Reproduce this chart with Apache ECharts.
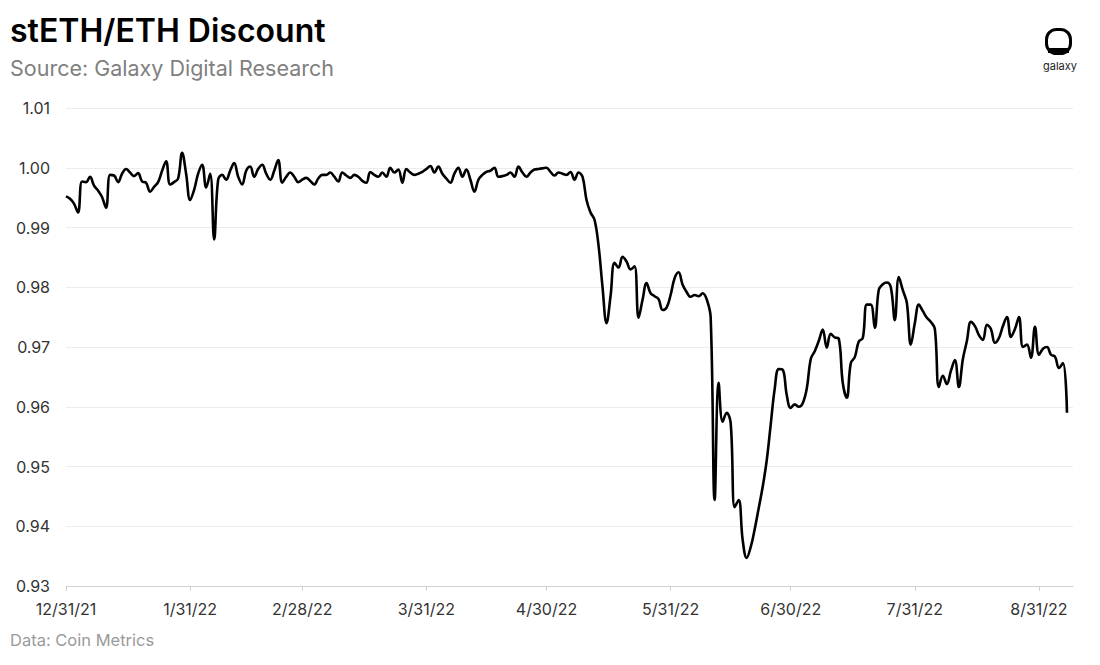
<!DOCTYPE html>
<html>
<head>
<meta charset="utf-8">
<script src="https://cdn.jsdelivr.net/npm/echarts@6/dist/echarts.min.js"></script>
<style>
html,body{margin:0;padding:0;background:#fff;}
#c{width:1100px;height:665px;}
</style>
</head>
<body>
<div id="c"></div>
<script>
// Day offsets from 12/31/21 for the x-axis ticks
const tickDays = [0, 31, 59, 90, 120, 151, 181, 212, 243];
const tickLabels = ["12/31/21", "1/31/22", "2/28/22", "3/31/22", "4/30/22", "5/31/22", "6/30/22", "7/31/22", "8/31/22"];
const yTicks = [0.93, 0.94, 0.95, 0.96, 0.97, 0.98, 0.99, 1.00, 1.01];

// Daily stETH/ETH ratio, day 0 = 12/31/21
const ratio = [
  0.9952,0.9948,0.9940,0.9925,0.9977,0.9976,0.9985,0.9970,0.9962,0.9951,0.9933,
  0.9988,0.9987,0.9976,0.9990,0.9998,0.9992,0.9986,0.9991,0.9977,0.9975,
  0.9960,0.9968,0.9976,0.9995,1.0011,0.9972,0.9976,0.9982,1.0025,0.9990,
  0.9946,0.9963,0.9990,1.0005,0.9967,0.9990,0.9880,0.9980,0.9988,0.9980,
  0.9995,1.0008,0.9985,0.9972,0.9995,1.0002,0.9985,0.9998,1.0005,0.9990,
  0.9980,0.9995,1.0013,0.9975,0.9985,0.9992,0.9985,0.9976,0.9980,0.9983,
  0.9978,0.9972,0.9982,0.9988,0.9988,0.9992,0.9985,0.9977,0.9992,0.9987,
  0.9983,0.9988,0.9985,0.9978,0.9975,0.9993,0.9988,0.9985,0.9992,0.9985,
  1.0000,0.9992,0.9997,0.9975,0.9998,0.9992,0.9988,0.9990,0.9993,0.9998,
  1.0003,0.9992,1.0002,0.9990,0.9982,0.9975,0.9990,1.0000,0.9985,0.9997,
  0.9980,0.9960,0.9980,0.9988,0.9993,0.9995,1.0000,0.9985,0.9986,0.9988,
  0.9992,0.9985,1.0002,0.9992,0.9985,0.9992,0.9997,0.9998,0.9999,1.0000,
  0.9993,0.9987,0.9992,0.9990,0.9988,0.9993,0.9980,0.9992,0.9985,0.9946,
  0.9925,0.9913,0.9870,0.9800,0.9740,0.9785,0.9841,0.9833,0.9851,0.9843,
  0.9830,0.9835,0.9749,0.9779,0.9807,0.9790,0.9785,0.9780,0.9762,0.9766,
  0.9787,0.9815,0.9825,0.9804,0.9792,0.9784,0.9787,0.9785,0.9790,0.9780,
  0.9750,0.9444,0.9640,0.9575,0.9590,0.9573,0.9432,0.9444,0.9377,0.9347,
  0.9365,0.9395,0.9430,0.9466,0.9510,0.9570,0.9630,0.9663,0.9662,0.9620,
  0.9598,0.9604,0.9600,0.9606,0.9630,0.9680,0.9693,0.9710,0.9729,0.9699,
  0.9722,0.9716,0.9714,0.9640,0.9615,0.9673,0.9683,0.9709,0.9715,0.9771,
  0.9771,0.9732,0.9796,0.9805,0.9808,0.9800,0.9745,0.9817,0.9795,0.9774,
  0.9704,0.9740,0.9771,0.9760,0.9749,0.9742,0.9730,0.9633,0.9652,0.9638,
  0.9660,0.9678,0.9633,0.9680,0.9710,0.9742,0.9735,0.9720,0.9712,0.9737,
  0.9730,0.9707,0.9715,0.9735,0.9750,0.9717,0.9730,0.9750,0.9700,0.9704,
  0.9682,0.9734,0.9687,0.9697,0.9700,0.9687,0.9684,0.9665,0.9673,0.9590
];

const seriesData = ratio.map((v, i) => [i, v]);
const FONT = 'Inter, "Noto Sans", sans-serif';

const chart = echarts.init(document.getElementById('c'), null, {renderer: 'svg'});
chart.setOption({
  animation: false,
  backgroundColor: '#ffffff',
  grid: {left: 66, right: 27, top: 108, bottom: 79, containLabel: false},
  xAxis: {
    type: 'value',
    min: 0,
    max: 251.5,
    splitLine: {show: false},
    axisLine: {show: true, lineStyle: {color: '#d0d0d0', width: 1}},
    axisTick: {show: true, customValues: tickDays, length: 5, lineStyle: {color: '#d0d0d0'}},
    axisLabel: {
      show: true,
      customValues: tickDays,
      formatter: function (v) { const k = tickDays.indexOf(Math.round(v)); return k >= 0 ? tickLabels[k] : ''; },
      color: '#333333', fontFamily: FONT, fontSize: 16, margin: 15
    }
  },
  yAxis: {
    type: 'value',
    min: 0.93,
    max: 1.01,
    interval: 0.01,
    axisLine: {show: false},
    axisTick: {show: false},
    splitLine: {show: true, lineStyle: {color: '#ececec', width: 1}},
    axisLabel: {
      formatter: function (v) { return (Math.round(v * 100) / 100).toFixed(2); },
      color: '#333333', fontFamily: FONT, fontSize: 16, margin: 16
    }
  },
  series: [{
    type: 'line',
    data: seriesData,
    smooth: 0.4,
    showSymbol: false,
    lineStyle: {color: '#000000', width: 2.6},
    z: 5
  }],
  graphic: [
    {type: 'text', left: 10, top: 14, style: {text: 'stETH/ETH Discount', fill: '#000', font: '600 32px ' + FONT}},
    {type: 'text', left: 10, top: 57, style: {text: 'Source: Galaxy Digital Research', fill: '#808080', font: '400 21.5px ' + FONT}},
    {type: 'text', left: 10, top: 631, style: {text: 'Data: Coin Metrics', fill: '#9a9a9a', font: '400 16.5px ' + FONT}},
    {type: 'group', left: 1044, top: 27, children: [
      {type: 'rect', shape: {x: 1.5, y: 1.5, width: 24, height: 24, r: 10}, style: {fill: 'none', stroke: '#000', lineWidth: 3}},
      {type: 'rect', shape: {x: 3, y: 20, width: 21, height: 5}, style: {fill: '#000'}}
    ]},
    {type: 'text', left: 1043, top: 60, style: {text: 'galaxy', fill: '#222', font: '400 11px ' + FONT}}
  ]
});
</script>
</body>
</html>
